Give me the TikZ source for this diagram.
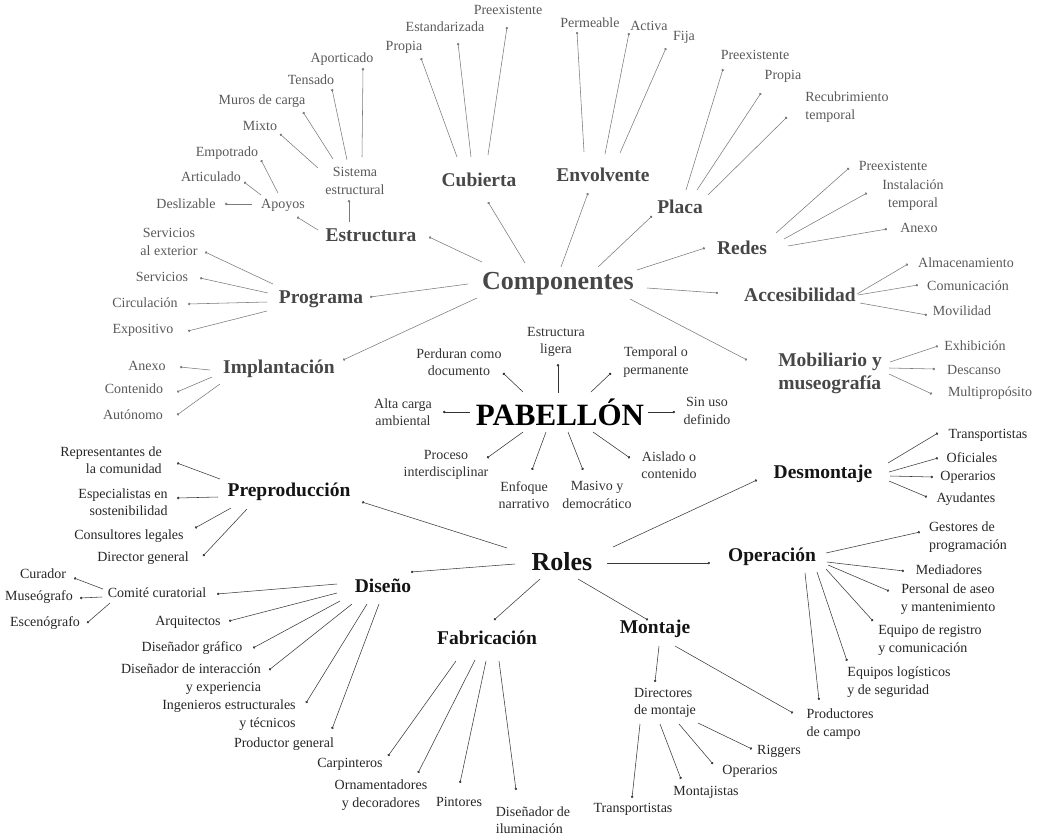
\documentclass[tikz,border=0pt]{standalone}
\usepackage{fontspec}
\setmainfont{Liberation Serif}
\usetikzlibrary{arrows.meta}
\definecolor{cleafc}{HTML}{595959}
\definecolor{cheadc}{HTML}{474747}
\definecolor{clinec}{HTML}{7A7A7A}
\definecolor{rleafc}{HTML}{262626}
\definecolor{rheadc}{HTML}{141414}
\definecolor{rlinec}{HTML}{3A3A3A}
\definecolor{pleafc}{HTML}{333333}
\tikzset{
  base/.style={font=\fontsize{14}{17.5}\selectfont, inner sep=1pt, outer sep=3pt, align=center},
  cleaf/.style={base, text=cleafc},
  pleaf/.style={base, text=pleafc},
  rleaf/.style={base, text=rleafc},
  chead/.style={font=\fontsize{19.5}{23}\selectfont\bfseries, text=cheadc, inner sep=1pt, outer sep=4pt, align=center},
  rhead/.style={font=\fontsize{19.5}{23}\selectfont\bfseries, text=rheadc, inner sep=1pt, outer sep=4pt, align=center},
  cline/.style={draw=clinec, line width=0.55pt, -{Circle[length=2.4pt]}},
  pline/.style={draw=pleafc, line width=0.55pt, -{Circle[length=2.4pt]}},
  rline/.style={draw=rlinec, line width=0.55pt, -{Circle[length=2.4pt]}},
}
\begin{document}
\begin{tikzpicture}[x=1pt,y=-1pt]
\useasboundingbox (0,0) rectangle (1039,839);
% ---------------- Componentes ----------------
\node[font=\fontsize{26}{30}\selectfont\bfseries, text=cheadc, inner sep=1pt, outer sep=4pt] (comp) at (558,284) {Componentes};
\node[chead] (est) at (371,235) {Estructura};
\node[cleaf] (sis) at (355,181) {Sistema\\estructural};
\node[cleaf] (apo) at (283,205) {Apoyos};
\node[cleaf] (des) at (186,204) {Deslizable};
\node[cleaf] (art) at (211,177) {Articulado};
\node[cleaf] (emp) at (227,153) {Empotrado};
\node[cleaf] (mix) at (260,126) {Mixto};
\node[cleaf] (mur) at (262,101) {Muros de carga};
\node[cleaf] (ten) at (311,80) {Tensado};
\node[cleaf] (apt) at (342,59) {Aporticado};
\node[chead] (cub) at (479,180) {Cubierta};
\node[cleaf] (cpro) at (404,47) {Propia};
\node[cleaf] (cest) at (445,27) {Estandarizada};
\node[cleaf] (cpre) at (508,10) {Preexistente};
\node[chead] (env) at (603,175) {Envolvente};
\node[cleaf] (eper) at (590,23) {Permeable};
\node[cleaf] (eact) at (649,26) {Activa};
\node[cleaf] (efij) at (684,37) {Fija};
\node[chead] (pla) at (680,207) {Placa};
\node[cleaf] (ppre) at (755,55) {Preexistente};
\node[cleaf] (ppro) at (783,76) {Propia};
\node[cleaf, align=left] (prec) at (847,107) {Recubrimiento\\temporal};
\node[chead] (red) at (742,248) {Redes};
\node[cleaf] (rpre) at (893,166) {Preexistente};
\node[cleaf] (rins) at (913,195) {Instalación\\temporal};
\node[cleaf] (ranx) at (919,228) {Anexo};
\node[chead] (acc) at (800,295) {Accesibilidad};
\node[cleaf] (aalm) at (966,263) {Almacenamiento};
\node[cleaf] (acom) at (968,286) {Comunicación};
\node[cleaf] (amov) at (962,311) {Movilidad};
\node[chead, align=left] (mob) at (830,373) {Mobiliario y\\museografía};
\node[cleaf] (mexh) at (975,346) {Exhibición};
\node[cleaf] (mdes) at (974,370) {Descanso};
\node[cleaf] (mmul) at (990,393) {Multipropósito};
\node[chead] (pro) at (321,299) {Programa};
\node[cleaf] (psex) at (169,242) {Servicios\\al exterior};
\node[cleaf] (pser) at (162,277) {Servicios};
\node[cleaf] (pcir) at (145,303) {Circulación};
\node[cleaf] (pexp) at (143,330) {Expositivo};
\node[chead] (imp) at (279,369) {Implantación};
\node[cleaf] (ianx) at (147,366) {Anexo};
\node[cleaf] (icon) at (134,389) {Contenido};
\node[cleaf] (iaut) at (133,415) {Autónomo};

\foreach \a/\da/\b/\db in {
  comp/{-76,-22}/est/{58,2}, comp/{-33,-21}/cub/{9,22}, comp/{3,-17}/env/{-15,18},
  comp/{40,-17}/pla/{-28,9}, comp/{79,-14}/red/{-37,0}, comp/{89,4}/acc/{-82,-2},
  comp/{72,15}/mob/{-83,-13}, comp/{-90,0}/pro/{49,-2}, comp/{-81,14}/imp/{64,-9},
  est/{-22,-13}/sis/{-6,19}, est/{-53,-5}/apo/{14,12},
  sis/{7,-24}/apt/{21,9}, sis/{-8,-21}/ten/{21,9}, sis/{-22,-22}/mur/{41,11}, sis/{-37,-13}/mix/{20,8},
  apo/{-5,-12}/emp/{34,7}, apo/{-22,-10}/art/{33,5}, apo/{-31,-1}/des/{39,0},
  cub/{-22,-23}/cpro/{17,11}, cub/{-8,-23}/cest/{13,16}, cub/{9,-25}/cpre/{-1,17},
  env/{-19,-23}/eper/{-13,9}, env/{2,-21}/eact/{-20,7}, env/{17,-22}/efij/{-18,11},
  pla/{6,-17}/ppre/{-32,14}, pla/{17,-17}/ppro/{-22,17}, pla/{28,-12}/prec/{-60,10},
  red/{34,-15}/rpre/{-44,2}, red/{42,-9}/rins/{-46,-2}, red/{46,-2}/ranx/{-32,1},
  acc/{57,-1}/aalm/{-58,1}, acc/{58,0}/acom/{-50,-1}, acc/{60,8}/amov/{-35,4},
  mob/{60,-11}/mexh/{-37,0}, mob/{59,-5}/mdes/{-39,-1}, mob/{59,1}/mmul/{-58,1},
  pro/{-48,-15}/psex/{36,10}, pro/{-53,-6}/pser/{38,1}, pro/{-54,3}/pcir/{43,1}, pro/{-54,12}/pexp/{45,1},
  imp/{-69,1}/ianx/{33,1}, imp/{-67,8}/icon/{43,3}, imp/{-59,15}/iaut/{44,0}}
  \draw[cline] ([shift={(\da)}]\a.center) -- ([shift={(\db)}]\b.center);

% ---------------- Pabellón ----------------
\node[font=\fontsize{31}{34}\selectfont\bfseries, text=black, inner sep=1pt, outer sep=5pt] (pab) at (560,412) {PABELLÓN};
\node[pleaf] (p1) at (459,362) {Perduran como\\documento};
\node[pleaf] (p2) at (556,342) {Estructura\\ligera};
\node[pleaf] (p3) at (656,362) {Temporal o\\permanente};
\node[pleaf] (p4) at (403,412) {Alta carga\\ambiental};
\node[pleaf] (p5) at (707,411) {Sin uso\\definido};
\node[pleaf] (p6) at (446,465) {Proceso\\interdisciplinar};
\node[pleaf] (p7) at (524,495) {Enfoque\\narrativo};
\node[pleaf] (p8) at (597,495) {Masivo y\\democrático};
\node[pleaf] (p9) at (669,465) {Aislado o\\contenido};
\foreach \da/\b/\db in {
  {-37,-20}/p1/{44,11}, {-2,-19}/p2/{2,22}, {31,-20}/p3/{-45,11},
  {-90,0}/p4/{40,0}, {88,0}/p5/{-32,1}, {-37,20}/p6/{41,-7},
  {-14,20}/p7/{8,-25}, {8,20}/p8/{-14,-25}, {33,20}/p9/{-39,-7}}
  \draw[pline] ([shift={(\da)}]pab.center) -- ([shift={(\db)}]\b.center);

% ---------------- Roles ----------------
\node[font=\fontsize{26}{30}\selectfont\bfseries, text=rheadc, inner sep=1pt, outer sep=4pt] (rol) at (562,562) {Roles};
\node[rhead] (pre) at (289,492) {Preproducción};
\node[rleaf, align=right] (r1) at (111,460) {Representantes de\\la comunidad};
\node[rleaf, align=right] (r2) at (123,502) {Especialistas en\\sostenibilidad};
\node[rleaf] (r3) at (129,536) {Consultores legales};
\node[rleaf] (r4) at (143,558) {Director general};
\node[rhead] (dis) at (383,586) {Diseño};
\node[rleaf] (com) at (157,593) {Comité curatorial};
\node[rleaf] (cur) at (43,574) {Curador};
\node[rleaf] (mus) at (39,597) {Museógrafo};
\node[rleaf] (esc) at (45,623) {Escenógrafo};
\node[rleaf] (arq) at (188,622) {Arquitectos};
\node[rleaf] (dgr) at (192,648) {Diseñador gráfico};
\node[rleaf, align=right] (din) at (191,679) {Diseñador de interacción\\y experiencia};
\node[rleaf, align=right] (ing) at (229,715) {Ingenieros estructurales\\y técnicos};
\node[rleaf] (pgen) at (284,744) {Productor general};
\node[rhead] (fab) at (487,638) {Fabricación};
\node[rleaf] (car) at (350,764) {Carpinteros};
\node[rleaf] (orn) at (381,795) {Ornamentadores\\y decoradores};
\node[rleaf] (pin) at (459,802) {Pintores};
\node[rleaf, align=left] (dil) at (533,820) {Diseñador de\\iluminación};
\node[rhead] (mon) at (655,629) {Montaje};
\node[rleaf, align=left] (dmo) at (665,703) {Directores\\de montaje};
\node[rleaf] (tra) at (633,809) {Transportistas};
\node[rleaf] (mtj) at (706,792) {Montajistas};
\node[rleaf] (ope) at (750,771) {Operarios};
\node[rleaf] (rig) at (779,751) {Riggers};
\node[rleaf, align=left] (pca) at (840,724) {Productores\\de campo};
\node[rhead] (opr) at (772,557) {Operación};
\node[rleaf, align=left] (og1) at (968,537) {Gestores de\\programación};
\node[rleaf] (og2) at (949,570) {Mediadores};
\node[rleaf] (og3) at (948,599) {Personal de aseo\\y mantenimiento};
\node[rleaf, align=left] (og4) at (930,640) {Equipo de registro\\y comunicación};
\node[rleaf, align=left] (og5) at (899,682) {Equipos logísticos\\y de seguridad};
\node[rhead] (dsm) at (823,474) {Desmontaje};
\node[rleaf] (d1) at (988,435) {Transportistas};
\node[rleaf] (d2) at (972,458) {Oficiales};
\node[rleaf] (d3) at (968,477) {Operarios};
\node[rleaf] (d4) at (966,499) {Ayudantes};

\foreach \a/\da/\b/\db in {
  rol/{-55,-14}/pre/{73,10}, rol/{-47,2}/dis/{28,-14}, rol/{-22,17}/fab/{7,-18},
  rol/{16,17}/mon/{-7,-9}, rol/{45,1}/opr/{-62,6}, rol/{51,-15}/dsm/{-66,6},
  pre/{-69,-13}/r1/{66,3}, pre/{-71,5}/r2/{54,-4}, pre/{-58,16}/r3/{66,-8}, pre/{-42,17}/r4/{60,-2},
  dis/{-46,-2}/com/{60,1}, dis/{-46,7}/arq/{41,-1}, dis/{-43,15}/dgr/{61,0},
  dis/{-31,18}/din/{78,-9}, dis/{-16,18}/ing/{77,-12}, dis/{-4,18}/pgen/{48,-15},
  com/{-54,-4}/cur/{31,4}, com/{-55,4}/mus/{41,1}, com/{-47,10}/esc/{42,0},
  fab/{-31,23}/car/{38,-8}, fab/{-12,22}/orn/{37,-22}, fab/{-1,23}/pin/{1,-19}, fab/{12,23}/dil/{-17,-30},
  mon/{4,17}/dmo/{-10,-21}, mon/{20,17}/pca/{-47,-11},
  dmo/{-25,21}/tra/{-1,-11}, dmo/{-5,21}/mtj/{-25,-13}, dmo/{14,21}/ope/{-37,-7}, dmo/{33,20}/rig/{-27,-2},
  opr/{54,-4}/og1/{-48,-5}, opr/{55,5}/og2/{-45,1}, opr/{56,8}/og3/{-59,-8},
  opr/{54,12}/og4/{-57,-19}, opr/{45,15}/og5/{-52,-21}, opr/{33,16}/pca/{-21,-24},
  dsm/{65,-11}/d1/{-50,-2}, dsm/{66,-2}/d2/{-34,0}, dsm/{67,2}/d3/{-35,0}, dsm/{66,7}/d4/{-39,-2}}
  \draw[rline] ([shift={(\da)}]\a.center) -- ([shift={(\db)}]\b.center);
\end{tikzpicture}
\end{document}
